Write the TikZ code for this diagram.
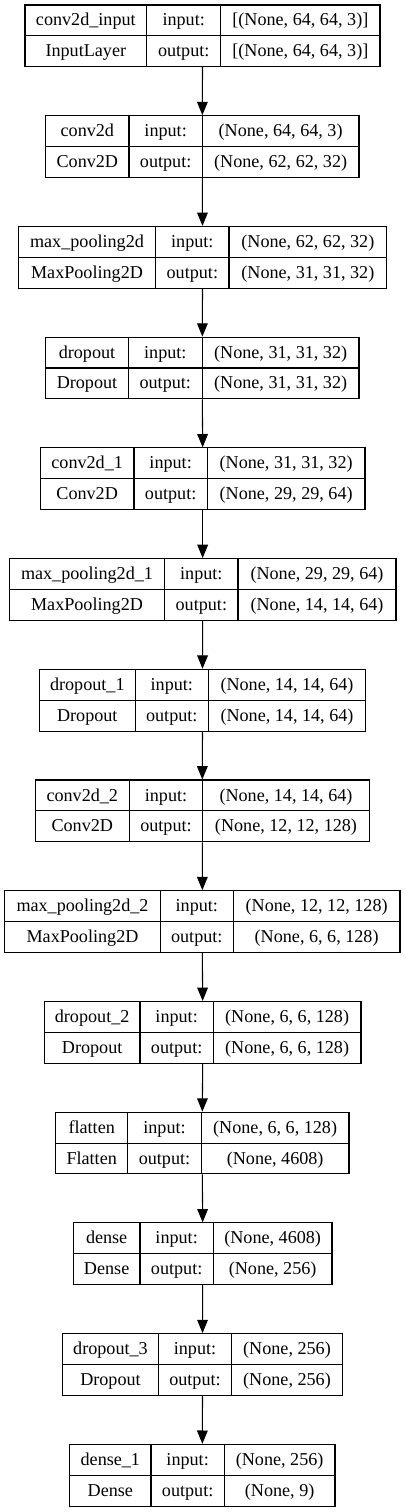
\documentclass[tikz,border=0pt]{standalone}
\usepackage{fontspec}
\setmainfont{Liberation Serif}
\newfontfamily\timesfam{Liberation Serif}
\usetikzlibrary{arrows.meta}
\tikzset{
  boxframe/.style={draw=black, line width=0.8pt, inner sep=0pt, fill=none},
  cellline/.style={draw=black, line width=0.8pt},
  celltext/.style={anchor=base, inner sep=0pt, font=\timesfam\fontsize{13.6}{16}\selectfont},
  flow/.style={draw=black, line width=0.8pt, -{Triangle[length=10pt,width=8pt]}}
}
% #1 index, #2 left, #3 divider1, #4 divider2, #5 right, #6 name, #7 class, #8 input, #9 output
\newcommand\kerasLayer[9]{%
  \pgfmathsetmacro\ty{5+(#1-1)*110.72}%
  \pgfmathsetmacro\cx{(#2+#5)/2}%
  \pgfmathsetmacro\bw{(#5-#2)*0.75}%
  \node[boxframe, minimum width=\bw pt, minimum height=46.3pt] (L#1) at (\cx, \ty+30.85) {};
  \draw[cellline] (#3,\ty) -- (#3,\ty+61.7);
  \draw[cellline] (#4,\ty) -- (#4,\ty+61.7);
  \draw[cellline] (#2,\ty+30.85) -- (#5,\ty+30.85);
  \node[celltext] (L#1n) at ({(#2+#3)/2}, \ty+21.0) {#6};
  \node[celltext] (L#1c) at ({(#2+#3)/2}, \ty+51.8) {#7};
  \node[celltext] (L#1i) at ({(#3+#4)/2}, \ty+21.0) {input:};
  \node[celltext] (L#1o) at ({(#3+#4)/2}, \ty+51.8) {output:};
  \node[celltext] (L#1x) at ({(#4+#5)/2}, \ty+21.0) {#8};
  \node[celltext] (L#1y) at ({(#4+#5)/2}, \ty+51.8) {#9};
}
\begin{document}
\begin{tikzpicture}[x=0.75pt, y=-0.75pt]
\useasboundingbox[fill=white] (0,0) rectangle (405,1512);
\kerasLayer{1}{25}{146.7}{220.7}{380}{conv2d\_input}{InputLayer}{[(None, 64, 64, 3)]}{[(None, 64, 64, 3)]}
\kerasLayer{2}{45.7}{129}{202.3}{359}{conv2d}{Conv2D}{(None, 64, 64, 3)}{(None, 62, 62, 32)}
\kerasLayer{3}{18.3}{155.7}{229}{386.7}{max\_pooling2d}{MaxPooling2D}{(None, 62, 62, 32)}{(None, 31, 31, 32)}
\kerasLayer{4}{45.7}{128.3}{202.3}{359}{dropout}{Dropout}{(None, 31, 31, 32)}{(None, 31, 31, 32)}
\kerasLayer{5}{40.3}{134}{207.3}{365}{conv2d\_1}{Conv2D}{(None, 31, 31, 32)}{(None, 29, 29, 64)}
\kerasLayer{6}{9.3}{164.7}{238}{396}{max\_pooling2d\_1}{MaxPooling2D}{(None, 29, 29, 64)}{(None, 14, 14, 64)}
\kerasLayer{7}{39.3}{135.3}{208.3}{365.7}{dropout\_1}{Dropout}{(None, 14, 14, 64)}{(None, 14, 14, 64)}
\kerasLayer{8}{35.3}{129.3}{202.7}{369.3}{conv2d\_2}{Conv2D}{(None, 14, 14, 64)}{(None, 12, 12, 128)}
\kerasLayer{9}{4.7}{160.3}{233.3}{400}{max\_pooling2d\_2}{MaxPooling2D}{(None, 12, 12, 128)}{(None, 6, 6, 128)}
\kerasLayer{10}{44.3}{140}{213.3}{361}{dropout\_2}{Dropout}{(None, 6, 6, 128)}{(None, 6, 6, 128)}
\kerasLayer{11}{55.7}{127.7}{201.3}{349}{flatten}{Flatten}{(None, 6, 6, 128)}{(None, 4608)}
\kerasLayer{12}{73.3}{140}{213.3}{332}{dense}{Dense}{(None, 4608)}{(None, 256)}
\kerasLayer{13}{62.7}{158.3}{231.7}{342.3}{dropout\_3}{Dropout}{(None, 256)}{(None, 256)}
\kerasLayer{14}{69.7}{151}{224.3}{335}{dense\_1}{Dense}{(None, 256)}{(None, 9)}
\foreach \a [evaluate=\a as \b using int(\a+1)] in {1,...,13}{
  \draw[flow] (L\a.south) -- (L\b.north);
}
\end{tikzpicture}
\end{document}
